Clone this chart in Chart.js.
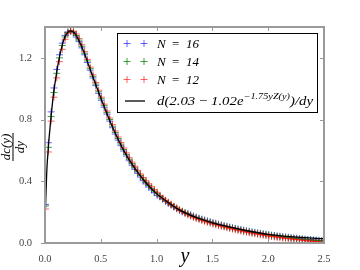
<!DOCTYPE html>
<html><head><meta charset="utf-8">
<script src="https://cdn.jsdelivr.net/npm/chart.js@4/dist/chart.umd.min.js"></script>
<style>html,body{margin:0;padding:0;background:#fff}#wrap{width:360px;height:270px;position:relative}</style>
</head><body><div id="wrap"><canvas id="c" width="360" height="270"></canvas></div>
<script>
const yPos = [0.005,0.03,0.055,0.08,0.105,0.13,0.155,0.18,0.205,0.23,0.255,0.28,0.305,0.33,0.355,0.38,0.405,0.43,0.455,0.48,
0.505,0.53,0.555,0.58,0.605,0.63,0.655,0.68,0.705,0.73,0.755,0.78,0.805,0.83,0.855,0.88,0.905,0.93,0.955,0.98,
1.005,1.03,1.055,1.08,1.105,1.13,1.155,1.18,1.205,1.23,1.255,1.28,1.305,1.33,1.355,1.38,1.405,1.43,1.455,1.48,
1.505,1.53,1.555,1.58,1.605,1.63,1.655,1.68,1.705,1.73,1.755,1.78,1.805,1.83,1.855,1.88,1.905,1.93,1.955,1.98,
2.005,2.03,2.055,2.08,2.105,2.13,2.155,2.18,2.205,2.23,2.255,2.28,2.305,2.33,2.355,2.38,2.405,2.43,2.455,2.48];
const n16 = [0.25,0.65,0.85,1.005,1.125,1.22,1.295,1.345,1.368,1.373,1.362,1.335,1.305,1.265,1.22,1.17,1.12,1.07,1.02,0.97,
0.925,0.88,0.835,0.79,0.747,0.706,0.667,0.631,0.596,0.564,0.533,0.504,0.477,0.451,0.427,0.404,0.383,0.363,0.344,0.326,
0.309,0.299,0.284,0.270,0.257,0.245,0.233,0.222,0.211,0.202,0.193,0.191,0.183,0.175,0.168,0.161,0.155,0.149,0.143,0.138,
0.132,0.127,0.122,0.117,0.112,0.108,0.103,0.099,0.095,0.091,0.087,0.083,0.079,0.076,0.072,0.069,0.066,0.063,0.060,0.057,
0.054,0.051,0.049,0.046,0.044,0.041,0.039,0.037,0.035,0.033,0.031,0.029,0.027,0.025,0.023,0.022,0.020,0.019,0.017,0.016];
const n14 = [0.24,0.62,0.82,0.975,1.10,1.20,1.28,1.335,1.365,1.375,1.368,1.345,1.315,1.275,1.23,1.18,1.13,1.08,1.03,0.98,
0.935,0.89,0.845,0.80,0.757,0.716,0.677,0.641,0.606,0.574,0.543,0.514,0.487,0.461,0.437,0.414,0.393,0.373,0.354,0.336,
0.319,0.303,0.288,0.274,0.261,0.249,0.237,0.226,0.215,0.206,0.197,0.188,0.180,0.172,0.165,0.158,0.152,0.146,0.140,0.135,
0.129,0.124,0.119,0.114,0.109,0.105,0.100,0.096,0.092,0.088,0.084,0.080,0.076,0.073,0.069,0.066,0.063,0.060,0.057,0.054,
0.051,0.048,0.046,0.043,0.041,0.038,0.036,0.034,0.032,0.030,0.028,0.026,0.024,0.022,0.020,0.019,0.017,0.016,0.014,0.013];
const n12 = [0.22,0.59,0.79,0.945,1.07,1.175,1.255,1.32,1.36,1.375,1.372,1.355,1.325,1.285,1.24,1.19,1.14,1.09,1.04,0.99,
0.945,0.90,0.855,0.81,0.767,0.726,0.687,0.651,0.616,0.584,0.553,0.524,0.497,0.471,0.447,0.424,0.403,0.383,0.364,0.346,
0.329,0.306,0.291,0.277,0.264,0.251,0.238,0.226,0.214,0.204,0.194,0.182,0.174,0.166,0.159,0.152,0.146,0.140,0.134,0.129,
0.123,0.118,0.113,0.108,0.103,0.099,0.094,0.090,0.086,0.082,0.078,0.074,0.070,0.067,0.063,0.060,0.057,0.054,0.051,0.048,
0.045,0.042,0.040,0.037,0.035,0.032,0.030,0.028,0.026,0.024,0.022,0.020,0.018,0.016,0.014,0.012,0.010,0.009,0.007,0.006];
const fitX = [0,0.005,0.015,0.03,0.05,0.075,0.1,0.125,0.15,0.175,0.2,0.225,0.25,0.275,0.3,0.35,0.4,0.45,0.5,0.6,
0.7,0.8,0.9,1.0,1.1,1.2,1.3,1.4,1.5,1.6,1.8,2.0,2.2,2.4,2.5];
const fitY = [0.19,0.24,0.45,0.62,0.785,0.96,1.085,1.19,1.27,1.33,1.362,1.375,1.37,1.35,1.318,1.235,1.135,1.035,0.94,0.76,
0.607,0.488,0.394,0.32,0.264,0.216,0.181,0.154,0.131,0.112,0.081,0.056,0.041,0.031,0.028];
const xTicks = [0.0,0.5,1.0,1.5,2.0,2.5];
const yTicks = [0.0,0.4,0.8,1.2];
const seriesNames = ['N = 16','N = 14','N = 12'];

const SERIF = '"Liberation Serif", "DejaVu Serif", serif';
const colors = ['rgba(0,0,255,0.6)','rgba(0,128,0,0.75)','rgba(255,0,0,0.6)'];

function pts(xs, ys){ return xs.map((v,i)=>({x:v,y:ys[i]})); }

const decor = {
  id:'decor',
  afterDraw(chart){
    const ctx = chart.ctx, a = chart.chartArea, x = chart.scales.x, y = chart.scales.y;
    ctx.save();
    const line=(x1,y1,x2,y2)=>{ctx.beginPath();ctx.moveTo(x1,y1);ctx.lineTo(x2,y2);ctx.stroke();};
    ctx.strokeStyle='#999'; ctx.lineWidth=1;
    xTicks.forEach(v=>{const px=Math.round(x.getPixelForValue(v))+0.5; line(px,a.bottom,px,a.bottom-4); line(px,a.top,px,a.top+4);});
    yTicks.forEach(v=>{const py=Math.round(y.getPixelForValue(v))+0.5; line(a.left-4,py,a.left,py); line(a.right,py,a.right-4,py);});
    ctx.lineWidth=2; ctx.strokeStyle='#9a9a9a';
    ctx.strokeRect(a.left,a.top,a.right-a.left,a.bottom-a.top);

    // legend
    const lx=117.5, ly=33.5, lw=200, lh=79;
    ctx.fillStyle='#fff'; ctx.fillRect(lx,ly,lw,lh);
    ctx.strokeStyle='#000'; ctx.lineWidth=1; ctx.strokeRect(lx,ly,lw,lh);
    const rows=[43.5,61.5,79.5];
    ctx.textBaseline='middle'; ctx.textAlign='left';
    rows.forEach((ry,i)=>{
      ctx.strokeStyle=colors[i]; ctx.lineWidth=1;
      [127,144].forEach(mx=>{line(mx-3.5,ry,mx+3.5,ry); line(mx,ry-3.5,mx,ry+3.5);});
      ctx.fillStyle='#000';
      const parts = seriesNames[i].split(' = ');
      ctx.font='italic 13px '+SERIF; ctx.fillText(parts[0],157,ry+1);
      ctx.font='13px '+SERIF; ctx.fillText('=',172,ry+1);
      ctx.font='italic 13px '+SERIF; ctx.fillText(parts[1],186,ry+1);
    });
    // fit entry
    const fy=101;
    ctx.strokeStyle='#000'; ctx.lineWidth=1.3; line(125,fy,145,fy);
    const pieces=[
      {t:'d(2.03',f:'italic 13px '+SERIF,dy:0},
      {t:' \u2212 ',f:'13px '+SERIF,dy:0},
      {t:'1.02e',f:'italic 13px '+SERIF,dy:0},
      {t:'\u22121.75yZ(y)',f:'italic 9px '+SERIF,dy:-5},
      {t:')/dy',f:'italic 13px '+SERIF,dy:0}];
    let total=0; pieces.forEach(p=>{ctx.font=p.f; p.w=ctx.measureText(p.t).width; total+=p.w;});
    const sx=156/total;
    ctx.save(); ctx.translate(157,fy+1); ctx.scale(sx,1);
    let cx=0; ctx.fillStyle='#000';
    pieces.forEach(p=>{ctx.font=p.f; ctx.fillText(p.t,cx,p.dy); cx+=p.w;});
    ctx.restore();

    // x axis title
    ctx.fillStyle='#000'; ctx.textAlign='center'; ctx.textBaseline='alphabetic';
    ctx.font='italic 20px '+SERIF; ctx.fillText('y',185,262);
    // y axis title (fraction)
    ctx.save(); ctx.translate(13,147); ctx.rotate(-Math.PI/2);
    ctx.font='italic 13px '+SERIF; ctx.textAlign='center'; ctx.textBaseline='middle';
    ctx.fillText('dc(y)',0,-6.5); ctx.fillText('dy',0,7.5);
    ctx.lineWidth=1; ctx.strokeStyle='#000'; line(-14,0,14,0);
    ctx.restore();
    ctx.restore();
  }
};

new Chart(document.getElementById('c'), {
  type:'scatter',
  data:{datasets:[
    {type:'line',label:'fit',data:pts(fitX,fitY),borderColor:'#000',borderWidth:1.3,pointRadius:0,fill:false,cubicInterpolationMode:'monotone',order:0},
    {label:seriesNames[2],data:pts(yPos,n12),pointStyle:'cross',pointRadius:3.5,borderColor:colors[2],borderWidth:1,showLine:false,order:1},
    {label:seriesNames[1],data:pts(yPos,n14),pointStyle:'cross',pointRadius:3.5,borderColor:colors[1],borderWidth:1,showLine:false,order:2},
    {label:seriesNames[0],data:pts(yPos,n16),pointStyle:'cross',pointRadius:3.5,borderColor:colors[0],borderWidth:1,showLine:false,order:3}
  ]},
  options:{
    responsive:false, animation:false, devicePixelRatio:1,
    layout:{padding:{top:27,right:36,left:0,bottom:0}},
    plugins:{legend:{display:false},tooltip:{enabled:false}},
    scales:{
      x:{type:'linear',min:0,max:2.5,
        afterBuildTicks:s=>{s.ticks=xTicks.map(v=>({value:v}));},
        afterFit:s=>{s.height=27;},
        grid:{display:false},border:{display:false},
        ticks:{padding:2,color:'#444',font:{family:SERIF,size:10.5},callback:v=>Number(v).toFixed(1),maxRotation:0}},
      y:{type:'linear',min:0,max:1.4,
        afterBuildTicks:s=>{s.ticks=yTicks.map(v=>({value:v}));},
        afterFit:s=>{s.width=45;},
        grid:{display:false},border:{display:false},
        ticks:{padding:5,color:'#444',font:{family:SERIF,size:10.5},callback:v=>Number(v).toFixed(1)}}
    }
  },
  plugins:[decor]
});
</script></body></html>
